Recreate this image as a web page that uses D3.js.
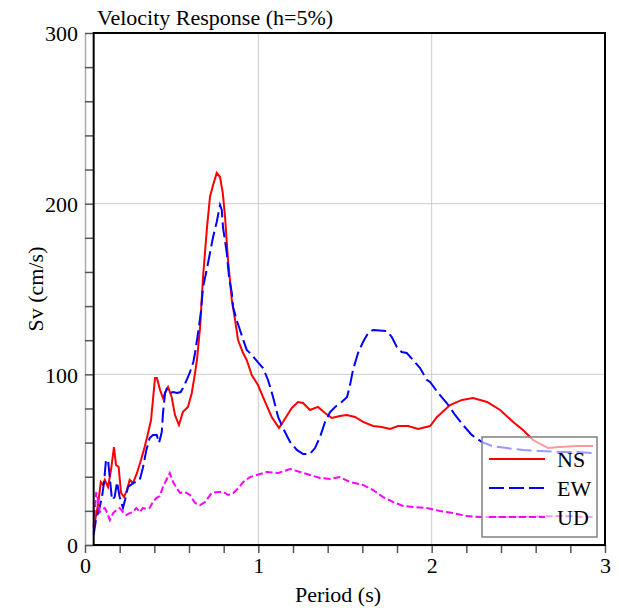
<!DOCTYPE html>
<html><head><meta charset="utf-8">
<script src="https://cdn.jsdelivr.net/npm/d3@7"></script>
<style>body{margin:0;background:#fff}svg{display:block}</style>
</head><body>
<script>
const title = "Velocity Response (h=5%)";
const xLabel = "Period (s)";
const yLabel = "Sv (cm/s)";
const xTickLabels = [0, 1, 2, 3];
const yTickLabels = [0, 100, 200, 300];
const seriesNames = ["NS", "EW", "UD"];
const seriesColors = ["#ff0000", "#0000ff", "#ff00ff"];

const periodNS = [0.05,0.075,0.091,0.104,0.114,0.133,0.150,0.167,0.179,0.194,0.208,0.225,0.242,0.258,0.277,0.300,0.323,0.344,0.364,0.381,0.404,0.415,0.433,0.450,0.462,0.479,0.500,0.519,0.542,0.565,0.594,0.616,0.635,0.646,0.664,0.681,0.704,0.721,0.739,0.760,0.779,0.795,0.808,0.825,0.847,0.866,0.883,0.912,0.933,0.962,0.998,1.039,1.077,1.119,1.142,1.193,1.229,1.258,1.298,1.344,1.385,1.424,1.471,1.510,1.558,1.604,1.662,1.712,1.760,1.806,1.864,1.922,1.991,2.031,2.106,2.175,2.239,2.320,2.395,2.470,2.527,2.585,2.672,2.741,2.839,2.931];
const valuesNS = [10,23.4,36.9,35.2,38.1,34,43.9,57.4,46.9,45.7,30.5,28.1,32.2,38.1,36.3,42.2,49.8,57.4,65.6,73.2,97.9,97.9,90.8,86.1,89.1,92.6,86.7,76.2,70.3,78,80.9,89.1,100.8,108.4,127.7,157,186.3,203.9,210.9,218,215.6,206.2,192.2,167,143.6,131.8,120.1,112.5,108.4,99.6,93.7,83.8,75,68.6,72.1,80.3,83.8,83.2,79.1,80.9,77.3,74.4,75.6,76.2,75,72.1,69.7,69.1,68,69.7,69.7,68,69.7,75,82,85,86.1,83.8,79.1,72.1,67.4,61.5,56.8,57.4,58,58];

const periodEW = [0.05,0.063,0.085,0.098,0.110,0.121,0.133,0.143,0.156,0.171,0.185,0.200,0.219,0.231,0.248,0.264,0.277,0.294,0.316,0.335,0.354,0.373,0.392,0.414,0.427,0.443,0.450,0.462,0.471,0.490,0.508,0.531,0.552,0.565,0.587,0.606,0.625,0.635,0.652,0.668,0.681,0.702,0.721,0.739,0.760,0.779,0.789,0.796,0.818,0.831,0.847,0.854,0.875,0.894,0.913,0.933,0.962,0.998,1.027,1.056,1.085,1.114,1.142,1.183,1.222,1.258,1.298,1.327,1.356,1.385,1.414,1.443,1.481,1.512,1.529,1.546,1.575,1.604,1.633,1.662,1.741,1.770,1.799,1.827,1.856,1.893,1.933,1.972,1.991,2.037,2.087,2.135,2.181,2.231,2.289,2.347,2.433,2.527,2.626,2.741,2.837,2.931];
const valuesEW = [5.9,14.6,22.3,28.1,36.9,49.8,49.8,39.3,26.4,28.1,36.9,28.1,21.7,26.4,34,35.2,36.3,36.9,38.1,45.7,55.7,62.7,64.5,64.5,59.8,66.2,77.3,89.1,91.4,89.1,89.6,89.1,89.6,92,96.7,101.4,107.2,112.5,124.2,135.9,151.2,161.1,171.1,180.5,189.3,199.2,196.3,186.3,171.1,157,147.7,139.5,131.8,126,120.1,114.3,111.5,107,103.7,96.7,86.7,75,68.6,60.4,55.7,53.3,53.3,56.8,63.3,72.1,77.9,80.9,83.8,86.7,93.7,102.5,112.5,118.9,124.2,126,125.4,121.9,116,113.1,112.5,108.4,103.7,96.7,95.5,89.1,83.2,76.2,70.3,64.5,60.4,58,56.8,55.7,55.1,54.5,54.5,53.9];

const periodUD = [0.05,0.056,0.065,0.075,0.085,0.098,0.114,0.129,0.143,0.162,0.181,0.200,0.219,0.238,0.258,0.277,0.296,0.316,0.335,0.354,0.373,0.392,0.411,0.431,0.450,0.469,0.489,0.508,0.529,0.548,0.577,0.606,0.635,0.664,0.692,0.731,0.769,0.798,0.827,0.856,0.885,0.913,0.952,0.991,1.048,1.115,1.183,1.241,1.298,1.356,1.414,1.471,1.529,1.604,1.662,1.720,1.777,1.835,1.893,1.972,2.048,2.124,2.203,2.279,2.337,2.510,2.741,2.931];
const valuesUD = [10.5,18.7,31,26.4,19.3,20.5,21.7,18.7,14.6,18.7,20.5,21.7,19.3,17.6,18.7,19.3,21.7,19.3,21.7,21.1,21.7,25.2,27.5,28.7,34,38.1,42.2,36.9,33.4,30.5,31.1,29.3,24.6,23.4,25.2,30.5,31.1,31.1,29.3,30.5,33.4,36.9,39.8,41,42.8,42.2,44.5,42.8,41,39.3,38.7,39.8,36.9,35.2,32.2,28.1,25.2,22.9,22.3,21.7,19.9,18.7,17,16.4,16.4,16.4,17,16.4];

const FONT = "'Liberation Serif', 'Times New Roman', Times, 'DejaVu Serif', serif";
const W = 619, H = 614;
const svg = d3.select("body").append("svg").attr("width", W).attr("height", H)
  .style("font-family", FONT);
const x = d3.scaleLinear().domain([0, 3]).range([85, 605]);
const y = d3.scaleLinear().domain([0, 300]).range([545, 33]);
const x0 = 0.05;

// grid
const g = svg.append("g");
g.selectAll(".vg").data([1, 2]).enter().append("line")
  .attr("x1", d => x(d)).attr("x2", d => x(d)).attr("y1", y(300)).attr("y2", y(0))
  .attr("stroke", "#cccccc").attr("stroke-width", 1);
g.selectAll(".hg").data([100, 200]).enter().append("line")
  .attr("x1", x(x0)).attr("x2", x(3)).attr("y1", d => y(d)).attr("y2", d => y(d))
  .attr("stroke", "#cccccc").attr("stroke-width", 1);

// axes
const xAxis = d3.axisBottom(x).tickValues(d3.range(0, 16).map(i => i * 0.2))
  .tickSize(8).tickSizeOuter(0).tickPadding(4)
  .tickFormat(d => (Math.abs(d - Math.round(d)) < 1e-6 && xTickLabels.includes(Math.round(d))) ? String(Math.round(d)) : "");
const xa = svg.append("g").attr("transform", `translate(0,${y(0)})`).call(xAxis);
const yAxis = d3.axisLeft(y).tickValues(d3.range(0, 16).map(i => i * 20))
  .tickSize(-8).tickSizeOuter(0).tickPadding(7)
  .tickFormat(d => yTickLabels.includes(d) ? String(d) : "");
const ya = svg.append("g").attr("transform", `translate(${x(0)},0)`).call(yAxis);
[xa, ya].forEach(a => {
  a.attr("font-family", null).attr("font-size", null);
  a.select(".domain").attr("stroke", "#aaaaaa").attr("stroke-width", 1.5);
  a.selectAll(".tick line").attr("stroke", "#555555").attr("stroke-width", 1.5);
  a.selectAll("text").style("font-size", "22px").style("font-family", FONT).attr("fill", "#000");
});
ya.selectAll("text").attr("dy", "0.35em");

// lines
const line = d3.line().x(d => x(d[0])).y(d => y(d[1]));
const series = [
  {t: periodNS, v: valuesNS, dash: null},
  {t: periodEW, v: valuesEW, dash: "15,5"},
  {t: periodUD, v: valuesUD, dash: "7,3"}
];
series.forEach((s, i) => {
  svg.append("path").datum(s.t.map((t, j) => [t, s.v[j]]))
    .attr("d", line).attr("fill", "none").attr("stroke", seriesColors[i])
    .attr("stroke-width", 2).attr("stroke-dasharray", s.dash);
});

// frame
svg.append("rect").attr("x", x(x0)).attr("y", y(300))
  .attr("width", x(3) - x(x0)).attr("height", y(0) - y(300))
  .attr("fill", "none").attr("stroke", "#000").attr("stroke-width", 2);

// legend
const lg = svg.append("g");
lg.append("rect").attr("x", 482).attr("y", 437).attr("width", 115).attr("height", 100)
  .attr("fill", "#ffffff").attr("fill-opacity", 0.6).attr("stroke", "#808080").attr("stroke-width", 1.5);
seriesNames.forEach((n, i) => {
  const ly = 459 + i * 29;
  lg.append("line").attr("x1", 489).attr("x2", 545).attr("y1", ly).attr("y2", ly)
    .attr("stroke", seriesColors[i]).attr("stroke-width", 2).attr("stroke-dasharray", series[i].dash);
  lg.append("text").attr("x", 557).attr("y", ly + 8).style("font-size", "22px").style("font-family", FONT).text(n);
});

// titles
svg.append("text").attr("x", 97).attr("y", 25).style("font-size", "22px").style("font-family", FONT).text(title);
svg.append("text").attr("x", x(1.5) - 7).attr("y", 602).attr("text-anchor", "middle").style("font-size", "22px").style("font-family", FONT).text(xLabel);
svg.append("text").attr("transform", `translate(43,${y(150)}) rotate(-90)`).attr("text-anchor", "middle").style("font-size", "22px").style("font-family", FONT).text(yLabel);
</script>
</body></html>
